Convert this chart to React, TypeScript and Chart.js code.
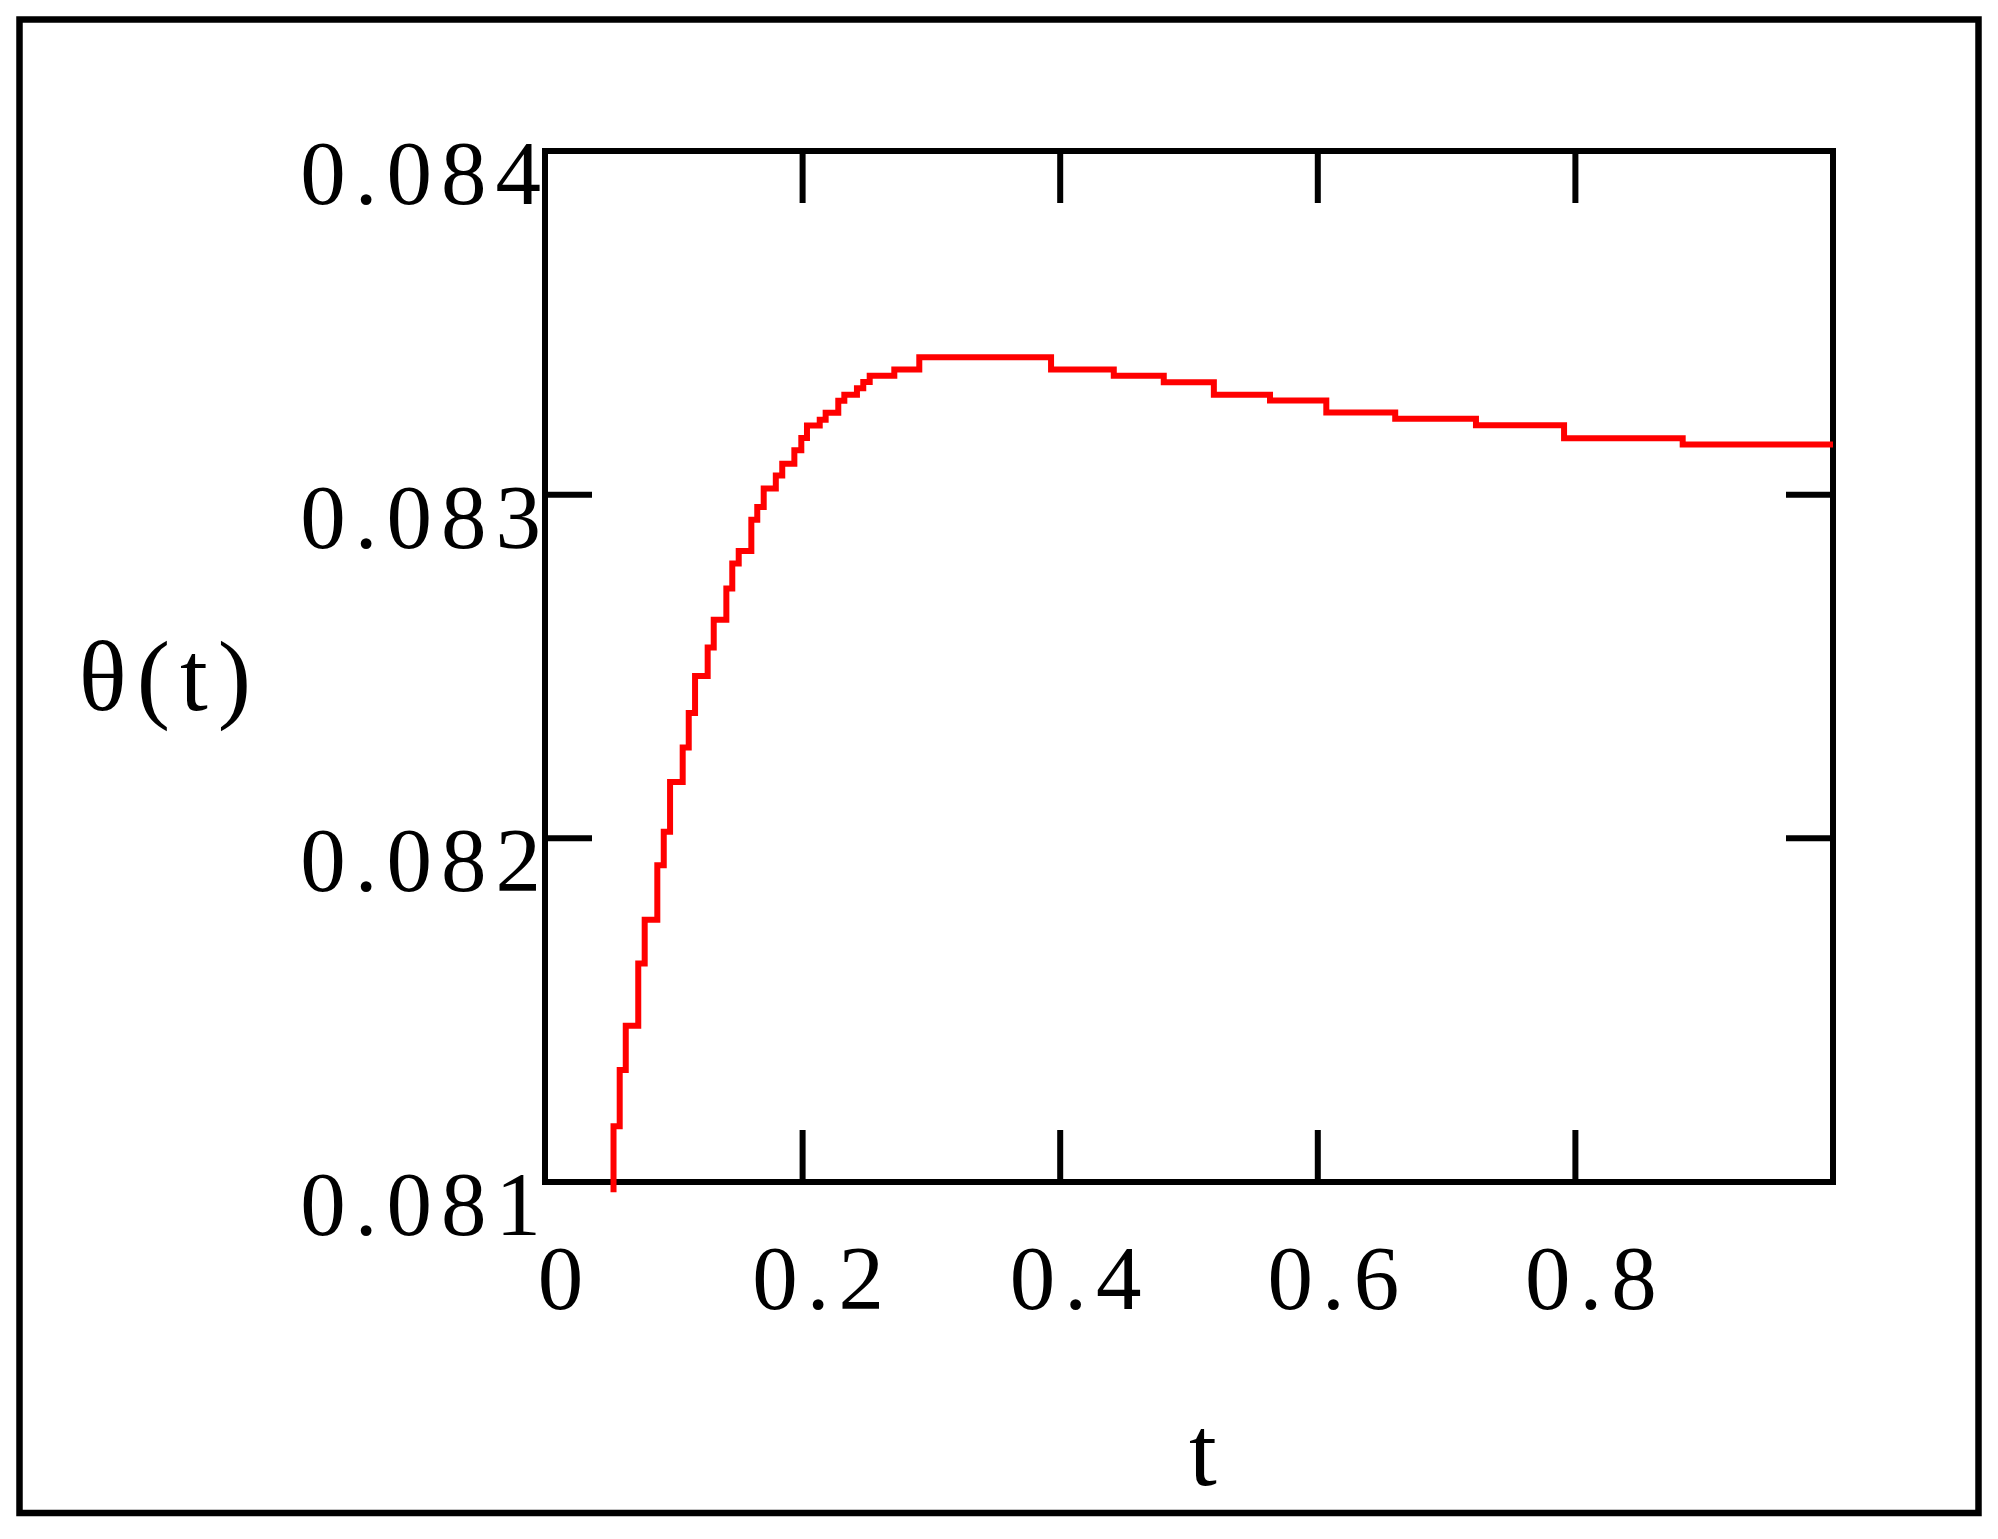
import React, { useEffect, useRef } from 'react';
import { Chart, registerables } from 'chart.js';

Chart.register(...registerables);

// ---- data (step corners of the plotted curve) ----
const tValues = [
  0.0532, 0.0532, 0.058, 0.0627, 0.0724, 0.0774, 0.0872, 0.0922, 0.0971, 0.1069,
  0.1116, 0.1165, 0.1263, 0.131, 0.1408, 0.1454, 0.1504, 0.1602, 0.1648, 0.1698,
  0.1792, 0.1842, 0.1936, 0.199, 0.2034, 0.2133, 0.2179, 0.2277, 0.2324, 0.2422,
  0.2471, 0.2521, 0.2712, 0.2906, 0.3929, 0.4416, 0.4804, 0.5193, 0.5629, 0.6066,
  0.6601, 0.7228, 0.7912, 0.8833, 1.0,
];
const thetaValues = [
  0.08097, 0.081162, 0.081326, 0.081455, 0.081636, 0.081763, 0.081922, 0.082019, 0.082164, 0.082264,
  0.082365, 0.082472, 0.082555, 0.082636, 0.082727, 0.0828, 0.082836, 0.082927, 0.082964, 0.083018,
  0.083056, 0.08309, 0.083129, 0.083165, 0.083201, 0.083218, 0.083238, 0.083273, 0.083291, 0.08331,
  0.083328, 0.083346, 0.083364, 0.0834, 0.083364, 0.083346, 0.083327, 0.083291, 0.083274, 0.083239,
  0.083221, 0.083202, 0.083164, 0.083146, 0.083146,
];

const xMin = 0;
const xMax = 1;
const yMin = 0.081;
const yMax = 0.084;
const xTickValues = [0, 0.2, 0.4, 0.6, 0.8];
const xTickLabels = ['0', '0.2', '0.4', '0.6', '0.8'];
const yTickValues = [0.081, 0.082, 0.083, 0.084];
const yTickLabels = ['0.081', '0.082', '0.083', '0.084'];
const xTitle = 't';
const yTitle = 'θ(t)';

const FONT_FAMILY = '"Liberation Serif", "Times New Roman", serif';
const TICK_FONT_SIZE = 91;
const TITLE_FONT_SIZE = 100;

const mathcadDecor = {
  id: 'mathcadDecor',
  beforeDraw(chart: any) {
    // wider letter spacing for the tick labels, like the reference
    (chart.ctx as any).letterSpacing = '9px';
  },
  beforeDatasetsDraw(chart: any) {
    const { ctx, chartArea: a, scales } = chart;
    const x = scales.x;
    const y = scales.y;
    ctx.save();
    ctx.strokeStyle = '#000';
    ctx.lineWidth = 6;
    ctx.lineCap = 'butt';
    ctx.lineJoin = 'miter';
    ctx.strokeRect(a.left, a.top, a.right - a.left, a.bottom - a.top);
    ctx.beginPath();
    for (const v of xTickValues) {
      if (v <= x.min || v >= x.max) continue;
      const px = x.getPixelForValue(v);
      ctx.moveTo(px, a.bottom);
      ctx.lineTo(px, a.bottom - 52);
      ctx.moveTo(px, a.top);
      ctx.lineTo(px, a.top + 52);
    }
    for (const v of yTickValues) {
      if (v <= y.min || v >= y.max) continue;
      const py = y.getPixelForValue(v);
      ctx.moveTo(a.left, py);
      ctx.lineTo(a.left + 47, py);
      ctx.moveTo(a.right, py);
      ctx.lineTo(a.right - 47, py);
    }
    ctx.stroke();
    ctx.restore();
  },
  afterDraw(chart: any) {
    const { ctx, chartArea: a, width, height } = chart;
    ctx.save();
    // outer frame
    ctx.strokeStyle = '#000';
    ctx.lineWidth = 6.5;
    ctx.strokeRect(19.5, 19.5, width - 39, height - 45.5);
    // axis titles
    ctx.fillStyle = '#000';
    ctx.font = `${TITLE_FONT_SIZE}px ${FONT_FAMILY}`;
    ctx.textAlign = 'center';
    ctx.textBaseline = 'alphabetic';
    (ctx as any).letterSpacing = '10px';
    ctx.fillText(yTitle, a.left - 375, (a.top + a.bottom) / 2 + 43);
    (ctx as any).letterSpacing = '0px';
    ctx.fillText(xTitle, (a.left + a.right) / 2 + 14, a.bottom + 303);
    ctx.restore();
    (ctx as any).letterSpacing = '0px';
  },
};

export default function App() {
  const canvasRef = useRef<HTMLCanvasElement | null>(null);

  useEffect(() => {
    const canvas = canvasRef.current;
    if (!canvas) return;
    const points = tValues.map((t, i) => ({ x: t, y: thetaValues[i] }));
    const chart = new Chart(canvas, {
      type: 'line',
      data: {
        datasets: [
          {
            data: points,
            borderColor: '#ff0000',
            backgroundColor: '#ff0000',
            borderWidth: 6,
            pointRadius: 0,
            pointHoverRadius: 0,
            stepped: 'before',
            tension: 0,
            fill: false,
            clip: false as any,
            borderJoinStyle: 'miter',
            borderCapStyle: 'butt',
          },
        ],
      },
      options: {
        responsive: false,
        maintainAspectRatio: false,
        devicePixelRatio: 1,
        animation: false,
        events: [],
        layout: {
          autoPadding: false,
          padding: { left: 0, top: 151, right: 165, bottom: 0 },
        },
        plugins: {
          legend: { display: false },
          tooltip: { enabled: false },
          title: { display: false },
        },
        scales: {
          x: {
            type: 'linear',
            position: 'bottom',
            min: xMin,
            max: xMax,
            afterBuildTicks: (s: any) => {
              s.ticks = xTickValues.map((v) => ({ value: v }));
            },
            afterFit: (s: any) => {
              s.height = 357;
              s.paddingLeft = 0;
              s.paddingRight = 0;
            },
            grid: { display: false, drawTicks: false },
            border: { display: false },
            ticks: {
              autoSkip: false,
              maxRotation: 0,
              minRotation: 0,
              padding: 48,
              labelOffset: 20,
              color: '#000',
              font: { family: FONT_FAMILY, size: TICK_FONT_SIZE },
              callback: (_v: any, i: number) => xTickLabels[i],
            },
          },
          y: {
            type: 'linear',
            position: 'left',
            min: yMin,
            max: yMax,
            afterBuildTicks: (s: any) => {
              s.ticks = yTickValues.map((v) => ({ value: v }));
            },
            afterFit: (s: any) => {
              s.width = 545;
              s.paddingTop = 0;
              s.paddingBottom = 0;
            },
            grid: { display: false, drawTicks: false },
            border: { display: false },
            ticks: {
              autoSkip: false,
              padding: -5,
              labelOffset: 29,
              color: '#000',
              font: { family: FONT_FAMILY, size: TICK_FONT_SIZE },
              callback: (_v: any, i: number) => yTickLabels[i],
            },
          },
        },
      } as any,
      plugins: [mathcadDecor],
    });
    return () => chart.destroy();
  }, []);

  return (
    <div style={{ position: 'fixed', left: 0, top: 0, width: 1998, height: 1539, background: '#fff' }}>
      <canvas ref={canvasRef} width={1998} height={1539} style={{ display: 'block' }} />
    </div>
  );
}
